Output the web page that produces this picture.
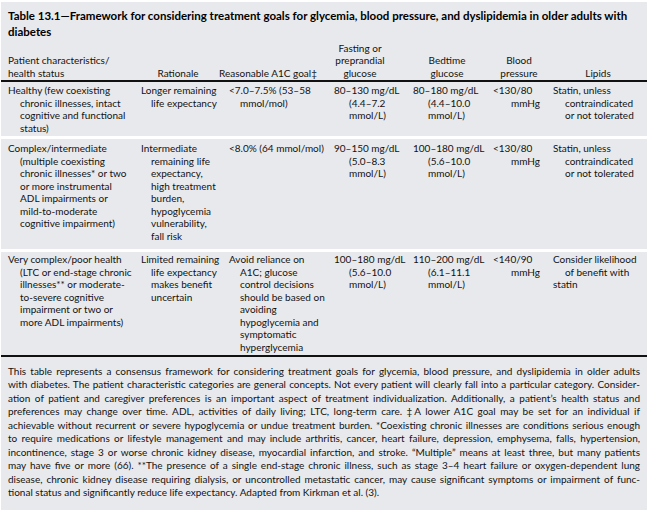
<!DOCTYPE html>
<html>
<head>
<meta charset="utf-8">
<script src="https://cdn.jsdelivr.net/npm/chart.js@4.4.1/dist/chart.umd.min.js"></script>
<style>
  html, body { margin: 0; padding: 0; background: #fff; }
  #page {
    position: absolute; left: 1px; top: 2px; width: 646px; height: 508px;
    background: #e8e9ec; overflow: hidden;
    font-family: Lato, "Noto Sans", sans-serif; color: #121212;
  }
  .ln { position: absolute; white-space: nowrap; font-size: 10px; line-height: 12px; }
  .title { font-weight: bold; font-size: 11.5px; line-height: 14px; color: #000; }
  .hd { text-align: center; }
  .rule { position: absolute; left: 0; width: 646px; }
  .note { position: absolute; left: 7px; width: 632px; font-size: 10px; line-height: 13px;
          text-align: justify; text-align-last: justify; white-space: nowrap; }
  .note.last { text-align-last: left; }
</style>
</head>
<body>
<div id="page"></div>
<script>
const titleLines = [
  'Table 13.1\u2014Framework for considering treatment goals for glycemia, blood pressure, and dyslipidemia in older adults with',
  'diabetes'
];

const headerLines = [
  ['Patient characteristics/', 'health status'],
  ['Rationale'],
  ['Reasonable A1C goal\u2021'],
  ['Fasting or', 'preprandial', 'glucose'],
  ['Bedtime', 'glucose'],
  ['Blood', 'pressure'],
  ['Lipids']
];

const healthyRow = [
  ['Healthy (few coexisting', 'chronic illnesses, intact', 'cognitive and functional', 'status)'],
  ['Longer remaining', 'life expectancy'],
  ['<7.0\u20137.5% (53\u201358', 'mmol/mol)'],
  ['80\u2013130 mg/dL', '(4.4\u20137.2', 'mmol/L)'],
  ['80\u2013180 mg/dL', '(4.4\u201310.0', 'mmol/L)'],
  ['<130/80', 'mmHg'],
  ['Statin, unless', 'contraindicated', 'or not tolerated']
];

const complexRow = [
  ['Complex/intermediate', '(multiple coexisting', 'chronic illnesses* or two', 'or more instrumental',
   'ADL impairments or', 'mild-to-moderate', 'cognitive impairment)'],
  ['Intermediate', 'remaining life', 'expectancy,', 'high treatment', 'burden,', 'hypoglycemia',
   'vulnerability,', 'fall risk'],
  ['<8.0% (64 mmol/mol)'],
  ['90\u2013150 mg/dL', '(5.0\u20138.3', 'mmol/L)'],
  ['100\u2013180 mg/dL', '(5.6\u201310.0', 'mmol/L)'],
  ['<130/80', 'mmHg'],
  ['Statin, unless', 'contraindicated', 'or not tolerated']
];

const poorRow = [
  ['Very complex/poor health', '(LTC or end-stage chronic', 'illnesses** or moderate-', 'to-severe cognitive',
   'impairment or two or', 'more ADL impairments)'],
  ['Limited remaining', 'life expectancy', 'makes benefit', 'uncertain'],
  ['Avoid reliance on', 'A1C; glucose', 'control decisions', 'should be based on', 'avoiding',
   'hypoglycemia and', 'symptomatic', 'hyperglycemia'],
  ['100\u2013180 mg/dL', '(5.6\u201310.0', 'mmol/L)'],
  ['110\u2013200 mg/dL', '(6.1\u201311.1', 'mmol/L)'],
  ['<140/90', 'mmHg'],
  ['Consider likelihood', 'of benefit with', 'statin']
];

const noteLines = [
  'This table represents a consensus framework for considering treatment goals for glycemia, blood pressure, and dyslipidemia in older adults',
  'with diabetes. The patient characteristic categories are general concepts. Not every patient will clearly fall into a particular category. Consider-',
  'ation of patient and caregiver preferences is an important aspect of treatment individualization. Additionally, a patient\u2019s health status and',
  'preferences may change over time. ADL, activities of daily living; LTC, long-term care. \u2021A lower A1C goal may be set for an individual if',
  'achievable without recurrent or severe hypoglycemia or undue treatment burden. *Coexisting chronic illnesses are conditions serious enough',
  'to require medications or lifestyle management and may include arthritis, cancer, heart failure, depression, emphysema, falls, hypertension,',
  'incontinence, stage 3 or worse chronic kidney disease, myocardial infarction, and stroke. \u201cMultiple\u201d means at least three, but many patients',
  'may have five or more (66). **The presence of a single end-stage chronic illness, such as stage 3\u20134 heart failure or oxygen-dependent lung',
  'disease, chronic kidney disease requiring dialysis, or uncontrolled metastatic cancer, may cause significant symptoms or impairment of func-',
  'tional status and significantly reduce life expectancy. Adapted from Kirkman et al. (3).'
];

const rows = [healthyRow, complexRow, poorRow];

// layout
const page = document.getElementById('page');
const ox = 1, oy = 2;           // page offset inside window
const lh = 12.5;                // table line step
const colX = [8, 141, 229, 334, 413, 493, 553];
const indent = [12, 10, 11, 15, 15, 18, 12];
const headCenter = [null, 178, 268, 360, 447, 519, 598];
const rowFirst = [90, 148, 259]; // centre of first line of each row
const titleY = [16, 32];
const headLastY = 72.5;
const noteFirst = 371, noteStep = 13.5;

function addLine(text, cls, x, cy, h) {
  const d = document.createElement('div');
  d.className = cls;
  d.textContent = text;
  d.style.left = (x - ox) + 'px';
  d.style.top = (cy - oy - h / 2) + 'px';
  page.appendChild(d);
  return d;
}

function addRule(y, h, color) {
  const r = document.createElement('div');
  r.className = 'rule';
  r.style.top = (y - oy) + 'px';
  r.style.height = h + 'px';
  r.style.background = color;
  page.appendChild(r);
}

titleLines.forEach((t, i) => addLine(t, 'ln title', 8, titleY[i], 14));

headerLines.forEach((lines, c) => {
  lines.forEach((t, i) => {
    const cy = headLastY - (lines.length - 1 - i) * lh;
    if (headCenter[c] === null) {
      addLine(t, 'ln', colX[c], cy, 12);
    } else {
      const d = addLine(t, 'ln hd', 0, cy, 12);
      d.style.left = (headCenter[c] - ox - 60) + 'px';
      d.style.width = '120px';
    }
  });
});

addRule(80, 2, '#111');

rows.forEach((row, r) => {
  row.forEach((lines, c) => {
    lines.forEach((t, i) => {
      let x = colX[c] + (i > 0 ? indent[c] : 0);
      if (r === 2 && c === 6 && i === 2) x = colX[c];
      addLine(t, 'ln', x, rowFirst[r] + i * lh, 12);
    });
  });
});

// white separators between rows
addRule(136, 3, '#fff');
addRule(249, 3, '#fff');
addRule(355, 2, '#111');

noteLines.forEach((t, i) => {
  const cls = 'note' + (i === noteLines.length - 1 ? ' last' : '');
  const d = addLine(t, cls, 8, noteFirst + i * noteStep, 13);
  d.style.left = (8 - ox) + 'px';
});
</script>
</body>
</html>
